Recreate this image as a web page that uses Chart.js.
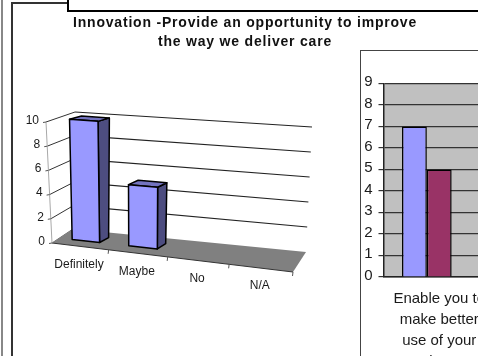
<!DOCTYPE html>
<html>
<head>
<meta charset="utf-8">
<script src="https://cdn.jsdelivr.net/npm/chart.js@4"></script>
<style>
  html, body { margin: 0; padding: 0; background: #fff; }
  body { position: relative; width: 478px; height: 356px; overflow: hidden; }
  .rule { position: absolute; }
  canvas { position: absolute; display: block; }
  #panelRight { position: absolute; left: 360px; top: 50px; width: 140px; height: 330px;
    border: 1.5px solid #444; background: #fff; }
</style>
</head>
<body>
<canvas id="innovation" style="left:0;top:0" width="490" height="356"></canvas>
<div class="rule" style="left:1px;top:0;width:2px;height:356px;background:#888"></div>
<div class="rule" style="left:11px;top:2px;width:1.5px;height:354px;background:#333"></div>
<div class="rule" style="left:11px;top:2px;width:58px;height:1.5px;background:#333"></div>
<div class="rule" style="left:67px;top:0;width:2px;height:11px;background:#000"></div>
<div class="rule" style="left:67px;top:9.5px;width:420px;height:2px;background:#000"></div>
<div id="panelRight"><canvas id="timeUse" style="left:0;top:0" width="140" height="330"></canvas></div>

<script>
// Left chart: responses on the innovation question
const innovationTitle = ['Innovation -Provide an opportunity to improve', 'the way we deliver care'];
const innovationLabels = ['Definitely', 'Maybe', 'No', 'N/A'];
const innovationValues = [10, 5, 0, 0];

// Right chart: one clustered category, cut off by the page edge
const timeLabels = [['Enable you to', 'make better', 'use of your', 'time']];
const timeSeriesA = [7];
const timeSeriesB = [5];
const timeSeriesC = [0];

const FONT = '"Liberation Sans", Arial, sans-serif';

// Corners of the floor/wall box as seen in the oblique view: [u, v, depth]
const box = {
  '000': [52, 243], '100': [293, 272], '010': [46, 122], '110': [299, 141],
  '001': [73, 229], '101': [306, 252], '011': [75, 112], '111': [312, 127]
};

function project(u, v, d) {
  let x = 0, y = 0;
  for (const a of [0, 1]) for (const b of [0, 1]) for (const c of [0, 1]) {
    const w = (a ? u : 1 - u) * (b ? v : 1 - v) * (c ? d : 1 - d);
    const p = box['' + a + b + c];
    x += w * p[0];
    y += w * p[1];
  }
  return [x, y];
}

// Foreshortening along the category axis
const warp = u => u * (0.92 + 0.08 * u);

function poly(ctx, pts, fill, stroke, lw) {
  ctx.beginPath();
  pts.forEach((p, i) => i ? ctx.lineTo(p[0], p[1]) : ctx.moveTo(p[0], p[1]));
  ctx.closePath();
  if (fill) { ctx.fillStyle = fill; ctx.fill(); }
  if (stroke) { ctx.strokeStyle = stroke; ctx.lineWidth = lw; ctx.lineJoin = 'round'; ctx.stroke(); }
}

function seg(ctx, a, b, color, lw) {
  ctx.beginPath();
  ctx.moveTo(a[0], a[1]);
  ctx.lineTo(b[0], b[1]);
  ctx.strokeStyle = color;
  ctx.lineWidth = lw;
  ctx.stroke();
}

// Draws the library's bar elements and scales through the oblique projection
const obliqueView = {
  id: 'obliqueView',
  beforeDraw(chart) {
    chart.ctx.letterSpacing = '0.8px';
  },
  beforeDatasetsDraw(chart) {
    const ctx = chart.ctx;
    ctx.letterSpacing = '0px';
    const xs = chart.scales.x, ys = chart.scales.y;
    const area = chart.chartArea;
    const toU = px => warp((px - area.left) / (area.right - area.left));
    const toV = py => (area.bottom - py) / (area.bottom - area.top);

    // back wall and side wall gridlines
    ys.ticks.forEach(t => {
      const v = toV(ys.getPixelForValue(t.value));
      if (v > 0) seg(ctx, project(0, v, 1), project(1, v, 1), '#222', 1.2);
      seg(ctx, project(0, v, 0), project(0, v, 1), v > 0 ? '#333' : '#666', 1);
    });

    // floor
    poly(ctx, [project(0, 0, 0), project(1, 0, 0), project(1, 0, 1), project(0, 0, 1)], '#808080');
    seg(ctx, project(0, 0, 0), project(1, 0, 0), '#333', 1);
    seg(ctx, project(0, 0, 0), project(0, 1, 0), '#a8a8a8', 1);

    // columns, from the bar elements' own geometry
    const meta = chart.getDatasetMeta(0);
    const ds = chart.data.datasets[0];
    meta.data.forEach((bar, i) => {
      if (innovationValues[i] <= 0) return;
      const half = bar.width / 2;
      const u0 = toU(bar.x - half), u1 = toU(bar.x + half);
      const v = toV(bar.y);
      const d0 = 0.36, d1 = 0.7;
      const fs = -0.006, bs = 0.004;
      const f0 = project(u0 + fs, 0, d0), f1 = project(u1 + fs, 0, d0);
      const t0 = project(u0 + fs, v, d0), t1 = project(u1 + fs, v, d0);
      const b1 = project(u1 + bs, 0, d1), k0 = project(u0 + bs, v, d1), k1 = project(u1 + bs, v, d1);
      poly(ctx, [f1, b1, k1, t1], ds.sideColor, '#000', 1.5);
      poly(ctx, [t0, t1, k1, k0], ds.topColor, '#000', 1.5);
      poly(ctx, [f0, f1, t1, t0], ds.backgroundColor, '#000', 1.5);
    });

    // value axis ticks and labels
    ctx.font = '12px ' + FONT;
    ctx.textBaseline = 'middle';
    ctx.textAlign = 'right';
    ys.ticks.forEach(t => {
      const v = toV(ys.getPixelForValue(t.value));
      const p = project(0, v, 0);
      seg(ctx, [p[0] - 3, p[1] + 0.5], p, '#555', 1);
      ctx.fillStyle = '#1a1a1a';
      ctx.fillText(t.label, p[0] - 7, p[1] - 1.5);
    });

    // category axis ticks and labels
    ctx.textAlign = 'center';
    xs.ticks.forEach((t, i) => {
      const px = xs.getPixelForTick(i);
      const step = (area.right - area.left) / xs.ticks.length;
      const edge = project(toU(px + step / 2), 0, 0);
      seg(ctx, edge, [edge[0] - 0.5, edge[1] + 4], '#555', 1);
      const c = project(toU(px), 0, 0);
      ctx.fillStyle = '#1a1a1a';
      ctx.fillText(t.label, c[0] - 1, c[1] + 18);
    });
    return false;
  }
};

new Chart(document.getElementById('innovation'), {
  type: 'bar',
  data: {
    labels: innovationLabels,
    datasets: [{
      data: innovationValues,
      backgroundColor: '#9999ff',
      sideColor: '#4d4d80',
      topColor: '#7373bf',
      barPercentage: 0.49,
      categoryPercentage: 1
    }]
  },
  options: {
    responsive: false,
    animation: false,
    layout: { padding: { top: 5 } },
    plugins: {
      legend: { display: false },
      tooltip: { enabled: false },
      title: {
        display: true,
        text: innovationTitle,
        color: '#111',
        font: { family: FONT, size: 14, weight: 'bold', lineHeight: 1.36 },
        padding: { top: 9, bottom: 0 }
      }
    },
    scales: {
      x: { display: false },
      y: { display: false, min: 0, max: 10, ticks: { stepSize: 2 } }
    }
  },
  plugins: [obliqueView]
});

// Grey plot background behind the gridlines
const plotBackground = {
  id: 'plotBackground',
  beforeDraw(chart) {
    const a = chart.chartArea;
    chart.ctx.fillStyle = '#c0c0c0';
    chart.ctx.fillRect(a.left, a.top, a.right - a.left, a.bottom - a.top);
  }
};

const barStyle = { borderColor: '#000', borderWidth: 1.5, barPercentage: 1, categoryPercentage: 0.668 };

new Chart(document.getElementById('timeUse'), {
  type: 'bar',
  data: {
    labels: timeLabels,
    datasets: [
      { data: timeSeriesA, backgroundColor: '#9999ff', ...barStyle },
      { data: timeSeriesB, backgroundColor: '#993366', ...barStyle },
      { data: timeSeriesC, backgroundColor: '#ffffcc', ...barStyle, borderWidth: 0 }
    ]
  },
  options: {
    responsive: false,
    animation: false,
    layout: { padding: { top: 32.5, right: 6, bottom: 0, left: 0 } },
    plugins: { legend: { display: false }, tooltip: { enabled: false } },
    scales: {
      x: {
        afterFit: s => { s.height = 104; },
        grid: { display: false, tickLength: 5 },
        border: { color: '#222', width: 1.5 },
        ticks: { color: '#1a1a1a', maxRotation: 0, autoSkip: false, padding: 6,
                 font: { family: FONT, size: 15, lineHeight: 1.4 } }
      },
      y: {
        min: 0,
        max: 9,
        afterFit: s => { s.width = 22.5; },
        grid: { color: '#333', lineWidth: 1.2, tickLength: 5 },
        border: { color: '#222', width: 1.5 },
        ticks: { stepSize: 1, color: '#1a1a1a', padding: 6,
                 // an empty second line lifts each digit slightly above its gridline
                 callback: v => [String(v), ''],
                 font: { family: FONT, size: 15, lineHeight: 0.2 } }
      }
    }
  },
  plugins: [plotBackground]
});
</script>
</body>
</html>
